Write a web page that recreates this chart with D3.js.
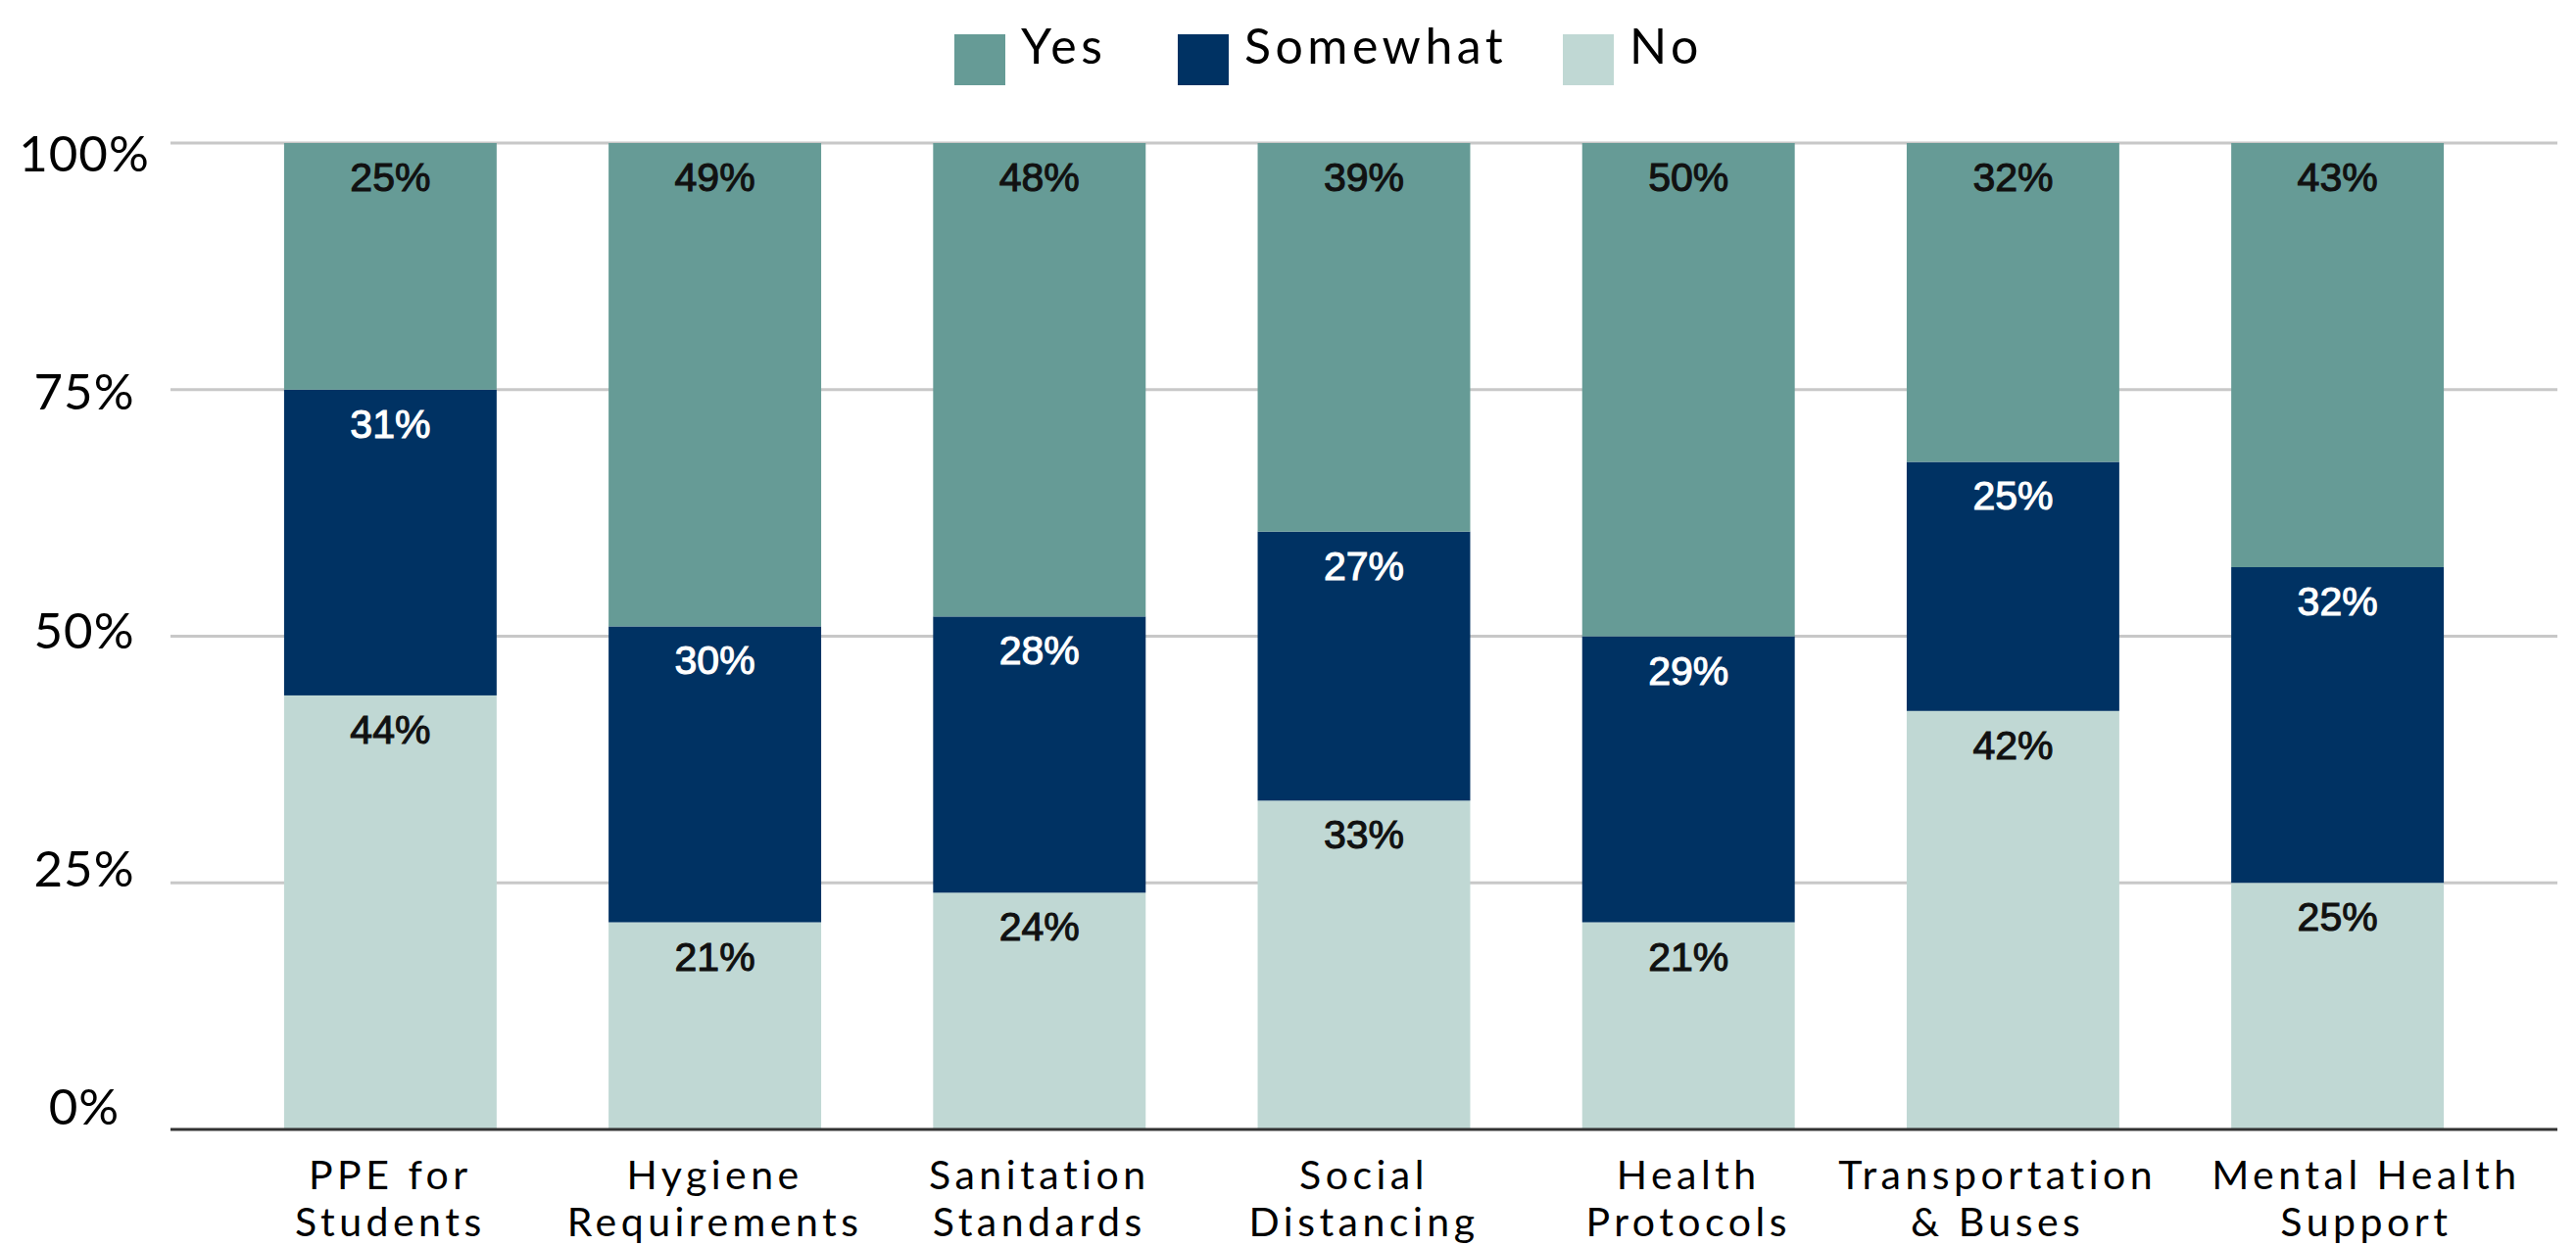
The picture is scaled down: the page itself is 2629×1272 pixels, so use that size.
<!DOCTYPE html>
<html>
<head>
<meta charset="utf-8">
<script src="https://cdnjs.cloudflare.com/ajax/libs/d3/7.8.5/d3.min.js"></script>
<style>
  body { margin: 0; background: #fff; }
  text { font-family: Lato, "Open Sans", sans-serif; }
</style>
</head>
<body>
<div class="chart"></div>
<script>
var categories = [
  ["PPE for", "Students"],
  ["Hygiene", "Requirements"],
  ["Sanitation", "Standards"],
  ["Social", "Distancing"],
  ["Health", "Protocols"],
  ["Transportation", "& Buses"],
  ["Mental Health", "Support"]
];
var seriesNames = ["No", "Somewhat", "Yes"];
var legendOrder = ["Yes", "Somewhat", "No"];
var noValues = [44, 21, 24, 33, 21, 42, 25];
var somewhatValues = [31, 30, 28, 27, 29, 25, 32];
var yesValues = [25, 49, 48, 39, 50, 32, 43];
var yTicks = [0, 0.25, 0.5, 0.75, 1];

var colors = { Yes: "#669b96", Somewhat: "#003263", No: "#c0d8d4" };
var labelColors = { Yes: "#111", Somewhat: "#fff", No: "#111" };

var rows = categories.map((c, i) => ({
  key: c.join(" "),
  lines: c,
  No: noValues[i],
  Somewhat: somewhatValues[i],
  Yes: yesValues[i]
}));

var fullWidth = 2629;
var fullHeight = 1272;
var margin = { top: 146, right: 19, bottom: 119, left: 174 };
var width = fullWidth - margin.left - margin.right;
var height = fullHeight - margin.top - margin.bottom;

var svg = d3
  .select(".chart")
  .append("svg")
  .attr("width", fullWidth)
  .attr("height", fullHeight);

var g = svg
  .append("g")
  .attr("transform", `translate(${margin.left}, ${margin.top})`);

var xScale = d3
  .scaleBand()
  .domain(rows.map(d => d.key))
  .range([0, width])
  .paddingInner(0.345)
  .paddingOuter(0.35);

var yScale = d3
  .scaleLinear()
  .domain([0, 1])
  .range([height, 0]);

// tick labels sit slightly inside the grid in the original
var yLabelScale = d3
  .scaleLinear()
  .domain([0, 1])
  .range([height - 5, 29]);

// gridlines
g.append("g")
  .selectAll("line")
  .data(yTicks.filter(t => t > 0))
  .join("line")
  .attr("x1", 0)
  .attr("x2", width)
  .attr("y1", d => yScale(d))
  .attr("y2", d => yScale(d))
  .attr("stroke", "#c8c8c8")
  .attr("stroke-width", 3);

g.append("g")
  .selectAll("text")
  .data(yTicks)
  .join("text")
  .attr("x", 86 - margin.left)
  .attr("y", d => yLabelScale(d))
  .attr("text-anchor", "middle")
  .attr("font-size", 51)
  .style("letter-spacing", "1px")
  .attr("fill", "#000")
  .text(d3.format(".0%"));

var stack = d3
  .stack()
  .keys(seriesNames)
  .offset(d3.stackOffsetExpand);

var layers = g
  .append("g")
  .selectAll("g")
  .data(stack(rows))
  .join("g")
  .attr("fill", d => colors[d.key]);

layers
  .selectAll("rect")
  .data(d => d)
  .join("rect")
  .attr("x", d => xScale(d.data.key))
  .attr("width", xScale.bandwidth())
  .attr("y", d => yScale(d[1]))
  .attr("height", d => yScale(d[0]) - yScale(d[1]));

layers
  .selectAll("text")
  .data(d => d.map(p => ({ p: p, key: d.key })))
  .join("text")
  .attr("x", d => xScale(d.p.data.key) + xScale.bandwidth() / 2)
  .attr("y", d => yScale(d.p[1]) + 49)
  .attr("text-anchor", "middle")
  .style("font-family", "'Liberation Sans', Arial, sans-serif")
  .attr("font-size", 41)
  .attr("fill", d => labelColors[d.key])
  .attr("stroke", d => labelColors[d.key])
  .attr("stroke-width", 1.1)
  .text(d => d.p.data[d.key] + "%");

// baseline
g.append("line")
  .attr("x1", 0)
  .attr("x2", width)
  .attr("y1", height)
  .attr("y2", height)
  .attr("stroke", "#333")
  .attr("stroke-width", 3);

// category labels, one text per line
var lineGap = 48;
rows.forEach(d => { d.cx = xScale(d.key) + xScale.bandwidth() / 2; });

var xLabels = g
  .append("g")
  .selectAll("g")
  .data(rows)
  .join("g");

xLabels
  .selectAll("text")
  .data(d => d.lines)
  .join("text")
  .attr("y", (d, i) => i * lineGap)
  .attr("text-anchor", "middle")
  .attr("font-size", 41)
  .style("letter-spacing", "4.5px")
  .attr("fill", "#000")
  .text(d => d);

// push neighbouring labels apart when they get too close (like the original)
var minGap = 56;
xLabels.each(function(d) {
  d.w = d3.max(d3.select(this).selectAll("text").nodes(), n => n.getComputedTextLength());
});
for (var i = 1; i < rows.length; i++) {
  var a = rows[i - 1], b = rows[i];
  var gap = (b.cx - b.w / 2) - (a.cx + a.w / 2);
  if (gap < minGap) {
    a.cx -= (minGap - gap) * 0.35;
    b.cx += (minGap - gap) * 0.65;
  }
}
xLabels.attr("transform", d => `translate(${d.cx}, ${height + 61})`);

// legend
var legendX = [974, 1202, 1595];
var legend = svg
  .append("g")
  .selectAll("g")
  .data(legendOrder)
  .join("g")
  .attr("transform", (d, i) => `translate(${legendX[i]}, 35)`);

legend
  .append("rect")
  .attr("width", 52)
  .attr("height", 52)
  .attr("fill", d => colors[d]);

legend
  .append("text")
  .attr("x", 68)
  .attr("y", 30)
  .attr("font-size", 50)
  .style("letter-spacing", "4.5px")
  .attr("fill", "#000")
  .text(d => d);
</script>
</body>
</html>
